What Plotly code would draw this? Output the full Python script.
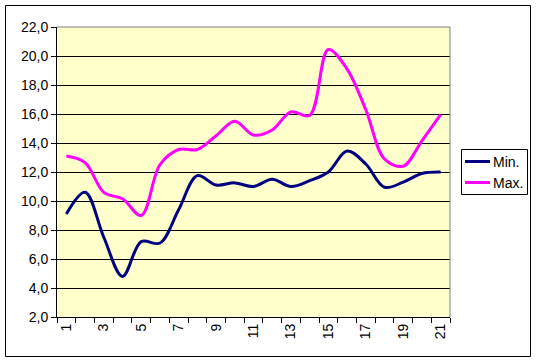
import plotly.graph_objects as go

categories = list(range(1, 22))
min_vals = [9.1, 10.6, 7.5, 4.8, 7.2, 7.1, 9.4, 11.75, 11.1, 11.25, 11.0, 11.5,
            11.0, 11.4, 12.0, 13.45, 12.55, 10.95, 11.3, 11.9, 12.0]
max_vals = [13.1, 12.65, 10.6, 10.15, 9.0, 12.5, 13.55, 13.55, 14.5, 15.5, 14.55,
            14.9, 16.15, 15.9, 20.45, 19.1, 16.3, 12.9, 12.4, 14.15, 15.95]
series_names = ["Min.", "Max."]
series_colors = ["#000080", "#FF00FF"]
tick_vals = [c for c in categories if c % 2 == 1]
tick_labels = [str(c) for c in tick_vals]

FONT = "Liberation Sans, Arial, sans-serif"
FS = 14

L, R, T, B = 57, 88, 27, 45
W, H = 538, 362
pw, ph = W - L - R, H - T - B


def px(x):
    return (x - L) / pw


def py(y):
    return (H - B - y) / ph


fig = go.Figure()
for name, vals, col in zip(series_names, [min_vals, max_vals], series_colors):
    fig.add_trace(go.Scatter(x=categories, y=vals, name=name, mode="lines",
                             line=dict(color=col, width=3, shape="spline", smoothing=1)))

shapes = [
    dict(type="line", xref="paper", yref="paper", x0=0, x1=1, y0=1, y1=1,
         line=dict(color="#808080", width=1), layer="above"),
    dict(type="line", xref="paper", yref="paper", x0=1, x1=1, y0=0, y1=1,
         line=dict(color="#808080", width=1), layer="above"),
    dict(type="rect", xref="paper", yref="paper",
         x0=px(5.5), x1=px(530.5), y0=py(356.5), y1=py(5.5),
         line=dict(color="black", width=1), fillcolor="rgba(0,0,0,0)", layer="above"),
    # legend box
    dict(type="rect", xref="paper", yref="paper",
         x0=px(461.5), x1=px(527.5), y0=py(194.5), y1=py(149.5),
         line=dict(color="black", width=1), fillcolor="white", layer="above"),
]
annotations = []
legend_rows = [161.5, 182.5]
for name, col, yy in zip(series_names, series_colors, legend_rows):
    shapes.append(dict(type="line", xref="paper", yref="paper",
                       x0=px(465), x1=px(490), y0=py(yy), y1=py(yy),
                       line=dict(color=col, width=3), layer="above"))
    annotations.append(dict(xref="paper", yref="paper", x=px(491), y=py(yy),
                            xanchor="left", yanchor="middle", text=name, showarrow=False,
                            font=dict(family=FONT, size=FS, color="black")))

fig.update_layout(
    width=W, height=H,
    margin=dict(l=L, r=R, t=T, b=B, pad=0, autoexpand=False),
    paper_bgcolor="white",
    plot_bgcolor="#FFFFCC",
    separators=",.",
    font=dict(family=FONT, size=FS, color="black"),
    showlegend=False,
    xaxis=dict(range=[0.5, 21.5], tickvals=tick_vals, ticktext=tick_labels,
               tickangle=-90, ticks="", showgrid=False, zeroline=False,
               showline=True, linecolor="black", linewidth=1, automargin=False,
               minor=dict(tick0=0.5, dtick=1, ticks="outside", ticklen=5,
                          tickcolor="black", tickwidth=1, showgrid=False),
               tickfont=dict(family=FONT, size=FS)),
    yaxis=dict(range=[2, 22], dtick=2, tick0=2, tickformat=".1f",
               ticks="outside", ticklen=5, tickcolor="black", automargin=False,
               showgrid=True, gridcolor="black", gridwidth=1, zeroline=False,
               showline=True, linecolor="black", linewidth=1,
               tickfont=dict(family=FONT, size=FS)),
    shapes=shapes,
    annotations=annotations,
)

fig.write_html("out.html", config={"displayModeBar": False},
               post_script="document.body.style.margin='0px';document.body.style.overflow='hidden';")
